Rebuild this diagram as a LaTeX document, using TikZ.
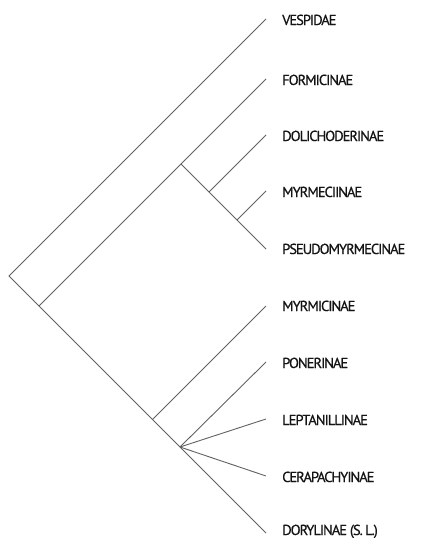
\documentclass[tikz,border=0pt]{standalone}
\usepackage{fontspec}
\newfontfamily\labfont{PT Sans}[BoldFont={PT Sans},BoldFeatures={FakeBold=0.6,LetterSpace=-7}]
\begin{document}
\begin{tikzpicture}[x=1pt,y=-1pt,
  branch/.style={draw=black!62, line width=0.9pt},
  taxon/.style={anchor=base west, inner sep=0pt, text=black!92, font=\labfont\bfseries\fontsize{14.5}{16}\selectfont}]
\useasboundingbox (0,0) rectangle (445,538);
% internal nodes
\coordinate (root) at (9,276);
\coordinate (formicidae) at (39,306);
\coordinate (formicoid) at (181,164);
\coordinate (dolnode) at (209,192);
\coordinate (myrnode) at (237,220);
\coordinate (myrmicnode) at (152.5,419.5);
\coordinate (poly) at (180,447);
% tips
\coordinate (t1) at (266,19);
\coordinate (t2) at (266,79);
\coordinate (t3) at (266,135);
\coordinate (t4) at (266,191);
\coordinate (t5) at (266,249);
\coordinate (t6) at (266,306);
\coordinate (t7) at (266,362);
\coordinate (t8) at (266,419);
\coordinate (t9) at (266,476);
\coordinate (t10) at (266,533);
% labels
\node[taxon] (l1) at (282,25) {VESPIDAE};
\node[taxon] (l2) at (282,85) {FORMICINAE};
\node[taxon] (l3) at (282,141) {DOLICHODERINAE};
\node[taxon] (l4) at (282,197) {MYRMECIINAE};
\node[taxon] (l5) at (282,254) {PSEUDOMYRMECINAE};
\node[taxon] (l6) at (282,311) {MYRMICINAE};
\node[taxon] (l7) at (282,368) {PONERINAE};
\node[taxon] (l8) at (282,425) {LEPTANILLINAE};
\node[taxon] (l9) at (282,482) {CERAPACHYINAE};
\node[taxon] (l10) at (282,535) {DORYLINAE (S.\,L.)};
% branches
\draw[branch] (t1) -- (root) -- (formicidae) -- (t10);
\draw[branch] (formicidae) -- (t2);
\draw[branch] (formicoid) -- (t5);
\draw[branch] (dolnode) -- (t3);
\draw[branch] (myrnode) -- (t4);
\draw[branch] (myrmicnode) -- (t6);
\draw[branch] (poly) -- (t7);
\draw[branch] (poly) -- (t8);
\draw[branch] (poly) -- (t9);
\end{tikzpicture}
\end{document}
